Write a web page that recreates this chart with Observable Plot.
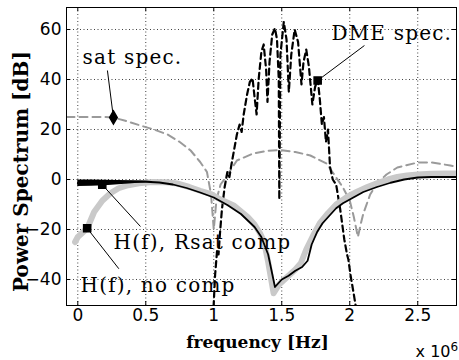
<!DOCTYPE html>
<html><head><meta charset="utf-8">
<script src="https://cdn.jsdelivr.net/npm/d3@7"></script>
<script src="https://cdn.jsdelivr.net/npm/@observablehq/plot@0.6"></script>
<style>body{margin:0;background:#fff} svg{display:block}</style>
</head><body><div id="chart"></div>
<script>
// Axis ticks
const xTicks = [0, 0.5, 1, 1.5, 2, 2.5];
const xTickLabels = ["0", "0.5", "1", "1.5", "2", "2.5"];
const yTicks = [-40, -20, 0, 20, 40, 60];

// sat spec. (gray dashed)
const satX = [-0.083, 0.0, 0.1, 0.2, 0.26, 0.35, 0.46, 0.56, 0.66, 0.75, 0.83, 0.9, 0.95, 0.98, 1.0, 1.02, 1.05, 1.09, 1.17, 1.29, 1.4, 1.49, 1.6, 1.71, 1.83, 1.88, 1.95, 2.0, 2.03, 2.06, 2.08, 2.1, 2.15, 2.2, 2.27, 2.35, 2.5, 2.6, 2.74, 2.785];
const satY = [25, 25, 25, 25, 24.8, 23.5, 21.6, 20, 18, 15, 11.6, 7, 3, -6, -20, -8, -2, 1, 7.6, 10.4, 11.5, 11.8, 11, 9.6, 6.4, 2.4, -3.2, -8.4, -15, -23, -18, -13.6, -6, -1.6, 2, 4.8, 6.8, 6.8, 5.6, 5];

// DME spec. (black dashed)
const dmeX = [0.995, 1.01, 1.025, 1.035, 1.045, 1.06, 1.08, 1.10, 1.115, 1.13, 1.15, 1.17, 1.19, 1.205, 1.22, 1.245, 1.265, 1.285, 1.30, 1.315, 1.33, 1.35, 1.367, 1.385, 1.395, 1.41, 1.43, 1.45, 1.465, 1.478, 1.482, 1.49, 1.515, 1.535, 1.552, 1.57, 1.595, 1.62, 1.645, 1.66, 1.68, 1.70, 1.725, 1.745, 1.765, 1.78, 1.795, 1.81, 1.825, 1.84, 1.855, 1.875, 1.9, 1.93, 1.96, 1.98, 1.99, 2.005, 2.03, 2.06];
const dmeY = [-55, -38, -28, -30, -22, -12, -3, 3, 1, 6, 12, 18, 22, 19, 26, 34, 39, 40.5, 33, 26, 40, 51, 54, 44, 31, 47, 58, 60.5, 56, 40, -8, 50, 63, 56, 35, 50, 60, 55, 38, 47, 52, 45, 30, 37, 40, 32, 22, 25, 15, 20, 5, 0, -2, -12, -24, -30, -32, -38, -46, -56];

// H(f), no comp (light gray thick)
const noX = [-0.02, 0.0, 0.03, 0.07, 0.12, 0.18, 0.24, 0.3, 0.37, 0.45, 0.55, 0.65, 0.73, 0.82, 0.9, 0.98, 1.05, 1.15, 1.25, 1.3, 1.34, 1.37, 1.4, 1.44, 1.48, 1.54, 1.6, 1.64, 1.68, 1.73, 1.78, 1.84, 1.9, 1.98, 2.05, 2.13, 2.2, 2.28, 2.35, 2.42, 2.5, 2.6, 2.7, 2.785];
const noY = [-25, -23, -21.5, -19.5, -13, -8.5, -5.5, -3.5, -2.3, -1.5, -1.0, -1.1, -1.6, -3, -4.5, -5.8, -8, -10.5, -15, -18, -21.5, -25, -33, -45.5, -42, -39, -36, -33.5, -28, -22.5, -17.5, -13.5, -10, -7, -5, -3, -1.5, 0, 1, 1.6, 2, 2.3, 2.4, 2.4];

// H(f), Rsat comp (black)
const rsX = [0, 0.1, 0.2, 0.3, 0.4, 0.5, 0.6, 0.7, 0.8, 0.9, 1.0, 1.1, 1.2, 1.3, 1.35, 1.4, 1.45, 1.5, 1.55, 1.6, 1.65, 1.69, 1.72, 1.76, 1.8, 1.85, 1.9, 1.95, 2.0, 2.1, 2.2, 2.3, 2.4, 2.5, 2.6, 2.7, 2.785];
const rsY = [-1.5, -1.4, -1.2, -1.0, -0.9, -0.9, -1.2, -2.0, -3.4, -5.2, -7.2, -10.2, -13.8, -19, -23, -30, -43, -40, -38.5, -36.5, -35, -32.5, -26, -21, -17.5, -14.5, -11.5, -9.5, -8, -5, -3, -1.3, 0, 0.8, 1.0, 1.0, 1.0];
// thick (noisy) start of Rsat comp
const bandX = [0, 0.1, 0.2, 0.3, 0.4, 0.46, 0.55];
const bandLo = [-2.8, -2.7, -2.5, -2.1, -1.7, -1.4, -1.1];
const bandHi = [-0.2, -0.2, -0.3, -0.4, -0.5, -0.6, -0.8];

// annotations
const annText = ["sat spec.", "DME spec.", "H(f), Rsat comp", "H(f), no comp"];
const annTextX = [0.035, 1.865, 0.263, 0.02];
const annTextY = [46.3, 55.9, -27.7, -45.1];
const markX = [0.262, 1.764, 0.18, 0.069];
const markY = [24.8, 39.6, -2.1, -19.5];
const markSymbol = ["diamond", "square", "square", "square"];
const leadX = [0.218, 2.108, 0.461, 0.302];
const leadY = [43.6, 53.6, -18.8, -35.7];

const tbl = (xs, ys) => xs.map((x, i) => ({x, y: ys[i]}));
const sat = tbl(satX, satY), dme = tbl(dmeX, dmeY), noc = tbl(noX, noY), rs = tbl(rsX, rsY);
const band = bandX.map((x, i) => ({x, lo: bandLo[i], hi: bandHi[i]}));
const ann = annText.map((t, i) => ({t, tx: annTextX[i], ty: annTextY[i], mx: markX[i], my: markY[i], s: markSymbol[i], lx: leadX[i], ly: leadY[i]}));

const fw = 390, fh = 298;
const chart = Plot.plot({
  width: 459, height: 360,
  marginLeft: 66, marginRight: 3, marginTop: 7, marginBottom: 55,
  style: {fontFamily: "DejaVu Sans", fontSize: "17px", color: "#000", background: "#fff"},
  x: {domain: [-0.083, 2.785], label: null},
  y: {domain: [-50.4, 68.8], label: null},
  marks: [
    Plot.gridX(xTicks, {stroke: "#000", strokeOpacity: 0.75, strokeDasharray: "1,2.5"}),
    Plot.gridY(yTicks, {stroke: "#000", strokeOpacity: 0.75, strokeDasharray: "1,2.5"}),
    Plot.line(sat, {x: "x", y: "y", stroke: "#9a9a9a", strokeWidth: 2, strokeDasharray: "8,5", clip: true}),
    Plot.line(dme, {x: "x", y: "y", stroke: "#000", strokeWidth: 2.2, strokeDasharray: "6,4", clip: true}),
    Plot.line(noc, {x: "x", y: "y", stroke: "#c9c9c9", strokeWidth: 6, clip: true}),
    Plot.areaY(band, {x: "x", y1: "lo", y2: "hi", fill: "#000"}),
    Plot.line(rs, {x: "x", y: "y", stroke: "#000", strokeWidth: 1.8, clip: true}),
    Plot.link(ann, {x1: "lx", y1: "ly", x2: "mx", y2: "my", stroke: "#000", strokeWidth: 1}),
    Plot.dot(ann, {x: "mx", y: "my", symbol: "s", r: 4, fill: "#000", stroke: "#000"}),
    Plot.text(ann, {x: "tx", y: "ty", text: "t", textAnchor: "start", lineAnchor: "bottom", fontFamily: "DejaVu Serif", fontSize: 20, fill: "#000"}),
    Plot.tickX(xTicks, {x: d => d, insetTop: fh - 4, stroke: "#000"}),
    Plot.tickX(xTicks, {x: d => d, insetBottom: fh - 4, stroke: "#000"}),
    Plot.tickY(yTicks, {y: d => d, insetLeft: fw - 4, stroke: "#000"}),
    Plot.tickY(yTicks, {y: d => d, insetRight: fw - 4, stroke: "#000"}),
    Plot.frame({stroke: "#000"}),
    Plot.axisX(xTicks, {tickSize: 0, tickPadding: 3, tickFormat: d => xTickLabels[xTicks.indexOf(d)], label: null}),
    Plot.axisY(yTicks, {tickSize: 0, tickPadding: 5, label: null}),
    Plot.text(["frequency [Hz]"], {frameAnchor: "bottom", dx: -4, dy: 42, lineAnchor: "bottom", fontFamily: "DejaVu Serif", fontWeight: "bold", fontSize: 17}),
    Plot.text(["Power Spectrum [dB]"], {frameAnchor: "left", rotate: -90, dx: -39, dy: 15, textAnchor: "middle", lineAnchor: "bottom", fontFamily: "DejaVu Serif", fontWeight: "bold", fontSize: 20}),
    Plot.text(["x 10"], {frameAnchor: "bottom-right", dx: -6, dy: 51, textAnchor: "end", lineAnchor: "bottom", fontSize: 16}),
    Plot.text(["6"], {frameAnchor: "bottom-right", dx: -6, dy: 45, textAnchor: "start", lineAnchor: "bottom", fontSize: 12})
  ]
});
chart.querySelectorAll('g[font-family="DejaVu Serif"]').forEach(g => {
  if (!g.getAttribute("font-weight")) g.style.letterSpacing = "1.2px";
});
document.getElementById("chart").appendChild(chart);
</script>
</body></html>
